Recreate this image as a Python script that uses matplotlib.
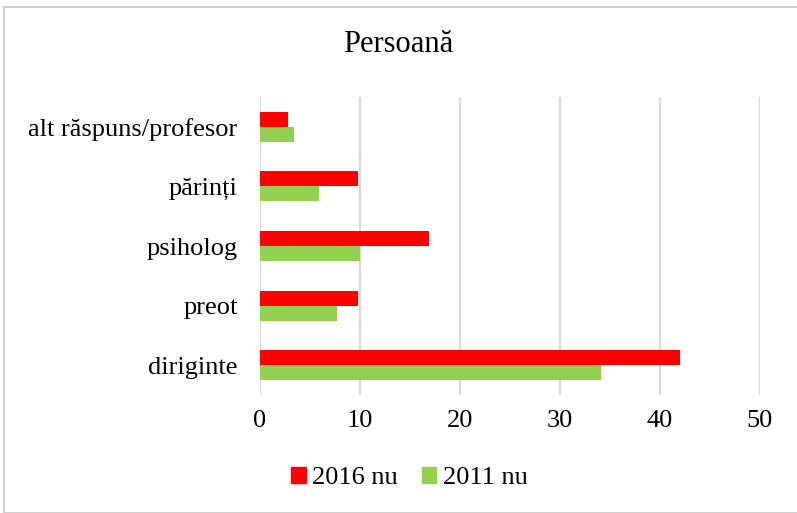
import matplotlib
matplotlib.use("Agg")
import matplotlib.pyplot as plt
from matplotlib.patches import Rectangle, Patch

categories = ["diriginte", "preot", "psiholog", "părinți", "alt răspuns/profesor"]
series_2016 = [42.0, 9.8, 16.9, 9.8, 2.8]
series_2011 = [34.1, 7.7, 10.0, 5.9, 3.45]
series_names = ["2016 nu", "2011 nu"]
xticks = [0, 10, 20, 30, 40, 50]

plt.rcParams['font.family'] = ['Liberation Serif', 'DejaVu Serif']

fig = plt.figure(figsize=(7.97, 5.13), dpi=100)
ax = fig.add_axes([259.7/797, 1-395/513, 500/797, 298/513])

h = 0.25
y = list(range(len(categories)))
ax.barh([v + h/2 for v in y], series_2016, height=h, color="#ff0000", zorder=3)
ax.barh([v - h/2 for v in y], series_2011, height=h, color="#92d050", zorder=3)

ax.set_xlim(0, 50)
ax.set_ylim(-0.5, 4.5)
ax.set_xticks(xticks)
ax.set_xticklabels([str(t) for t in xticks], fontsize=19)
ax.set_yticks(y)
ax.set_yticklabels(categories, fontsize=19)
ax.tick_params(axis='both', length=0)
ax.tick_params(axis='y', pad=16)
ax.tick_params(axis='x', pad=11)
ax.grid(axis='x', color="#d9d9d9", linewidth=1.5, zorder=0)
for s in ax.spines.values():
    s.set_visible(False)

fig.text(0.5, 1-45/513, "Persoană", ha='center', va='center', fontsize=22)

handles = [Patch(color="#ff0000"), Patch(color="#92d050")]
fig.legend(handles, series_names, loc='center', bbox_to_anchor=(0.514, 1-478/513),
           ncol=2, frameon=False, fontsize=19, handlelength=0.55, handleheight=0.55,
           handletextpad=0.25, columnspacing=0.9)

fig.patches.append(Rectangle((4/797, 0), 1, 1-7/513, transform=fig.transFigure,
                             fill=False, edgecolor="#d0d0d0", linewidth=1.5))

fig.savefig("out.png", dpi=100)
